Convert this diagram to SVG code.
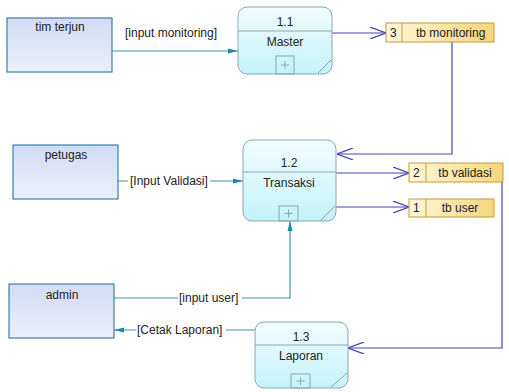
<svg xmlns="http://www.w3.org/2000/svg" width="509" height="392" viewBox="0 0 509 392">
<style>
text{font-family:"Liberation Sans",Arial,sans-serif;font-size:12px;fill:#222}
.ent{fill:url(#gEnt);stroke:#3c7fa3;stroke-width:1.2}
.proc{fill:url(#gProc);stroke:#8aa6b4;stroke-width:1}
.pl{stroke:#8aa6b4;stroke-width:1;fill:none}
.ds{fill:url(#gDs);stroke:#c49a3a;stroke-width:1}
.f1{stroke:#3a97a8;stroke-width:1.2;fill:none}
.f2{stroke:#4646b4;stroke-width:1.2;fill:none}
.lbl{fill:#fff}
.m{text-anchor:middle}
</style>
<defs>
<linearGradient id="gEnt" x1="0" y1="0" x2="0" y2="1"><stop offset="0" stop-color="#d2dbf6"/><stop offset="1" stop-color="#eceffb"/></linearGradient>
<linearGradient id="gProc" x1="0" y1="0" x2="0" y2="1"><stop offset="0" stop-color="#f2fdff"/><stop offset="1" stop-color="#c4f2fa"/></linearGradient>
<linearGradient id="gDs" x1="0" y1="0" x2="1" y2="0"><stop offset="0" stop-color="#fff8dc"/><stop offset="1" stop-color="#f6d57a"/></linearGradient>
<marker id="aF" viewBox="0 0 10 6" refX="10" refY="3" markerWidth="10" markerHeight="6" markerUnits="userSpaceOnUse" orient="auto"><path d="M0,0.5 L10,3 L0,5.5 Z" fill="#1f87b3"/></marker>
<marker id="aO" viewBox="0 0 16 12" refX="16" refY="6" markerWidth="16" markerHeight="12" markerUnits="userSpaceOnUse" orient="auto"><path d="M0,0 L16,6 L0,12" fill="none" stroke="#4646b4" stroke-width="1.2"/></marker>
</defs>

<g id="connectors">
<line class="f1" x1="112" y1="51" x2="238" y2="51" marker-end="url(#aF)"/>
<text x="125" y="37">[input monitoring]</text>
<line class="f1" x1="118" y1="181" x2="243" y2="181" marker-end="url(#aF)"/>
<rect class="lbl" x="128" y="173" width="82" height="15"/>
<text x="130" y="185">[Input Validasi]</text>
<polyline class="f1" points="114,298 290,298 290,221" marker-end="url(#aF)"/>
<rect class="lbl" x="178" y="290" width="64" height="15"/>
<text x="179" y="302">[input user]</text>
<line class="f1" x1="255" y1="330" x2="114" y2="330" marker-end="url(#aF)"/>
<rect class="lbl" x="136" y="322" width="90" height="15"/>
<text x="137" y="334">[Cetak Laporan]</text>
<line class="f2" x1="332" y1="33" x2="386" y2="33" marker-end="url(#aO)"/>
<polyline class="f2" points="452,42 452,154 337,154" marker-end="url(#aO)"/>
<line class="f2" x1="336" y1="173" x2="409" y2="173" marker-end="url(#aO)"/>
<line class="f2" x1="336" y1="207" x2="409" y2="207" marker-end="url(#aO)"/>
<polyline class="f2" points="502,182 502,348 348,348" marker-end="url(#aO)"/>
</g>

<g id="tim-terjun"><rect class="ent" x="7" y="18" width="105" height="54"/><text class="m" x="60" y="31">tim terjun</text></g>
<g id="petugas"><rect class="ent" x="13" y="145" width="105" height="54"/><text class="m" x="66" y="159">petugas</text></g>
<g id="admin"><rect class="ent" x="9" y="284" width="105" height="54"/><text class="m" x="62" y="299">admin</text></g>

<g id="p11"><rect class="proc" x="238" y="7" width="94" height="67" rx="9"/><line class="pl" x1="238" y1="31" x2="332" y2="31"/><rect class="pl" x="276" y="56" width="18" height="18"/><path class="pl" d="M281,65 h8 M285,61 v8 M318,73 L331,60"/><text class="m" x="285" y="26">1.1</text><text class="m" x="285" y="46">Master</text></g>
<g id="p12"><rect class="proc" x="243" y="140" width="93" height="81" rx="9"/><line class="pl" x1="243" y1="172" x2="336" y2="172"/><rect class="pl" x="279" y="206" width="19" height="15"/><path class="pl" d="M284.5,213.5 h8 M288.5,209.5 v8 M321,220 L335,206"/><text class="m" x="289" y="167">1.2</text><text class="m" x="289" y="187">Transaksi</text></g>
<g id="p13"><rect class="proc" x="255" y="322" width="93" height="66" rx="9"/><line class="pl" x1="255" y1="345" x2="348" y2="345"/><rect class="pl" x="291" y="374" width="19" height="14"/><path class="pl" d="M296.5,381 h8 M300.5,377 v8 M331,387 L347,373"/><text class="m" x="301" y="341">1.3</text><text class="m" x="301" y="360">Laporan</text></g>

<g id="ds-monitoring"><rect class="ds" x="386" y="23" width="108" height="19"/><line class="ds" x1="402" y1="23" x2="402" y2="42"/><text x="390" y="37">3</text><text x="416" y="37">tb  monitoring</text></g>
<g id="ds-validasi"><rect class="ds" x="409" y="163" width="94" height="19"/><line class="ds" x1="426" y1="163" x2="426" y2="182"/><text x="413" y="177">2</text><text class="m" x="465" y="177">tb validasi</text></g>
<g id="ds-user"><rect class="ds" x="409" y="199" width="85" height="18"/><line class="ds" x1="426" y1="199" x2="426" y2="217"/><text x="413" y="212">1</text><text class="m" x="460" y="212">tb user</text></g>
</svg>
